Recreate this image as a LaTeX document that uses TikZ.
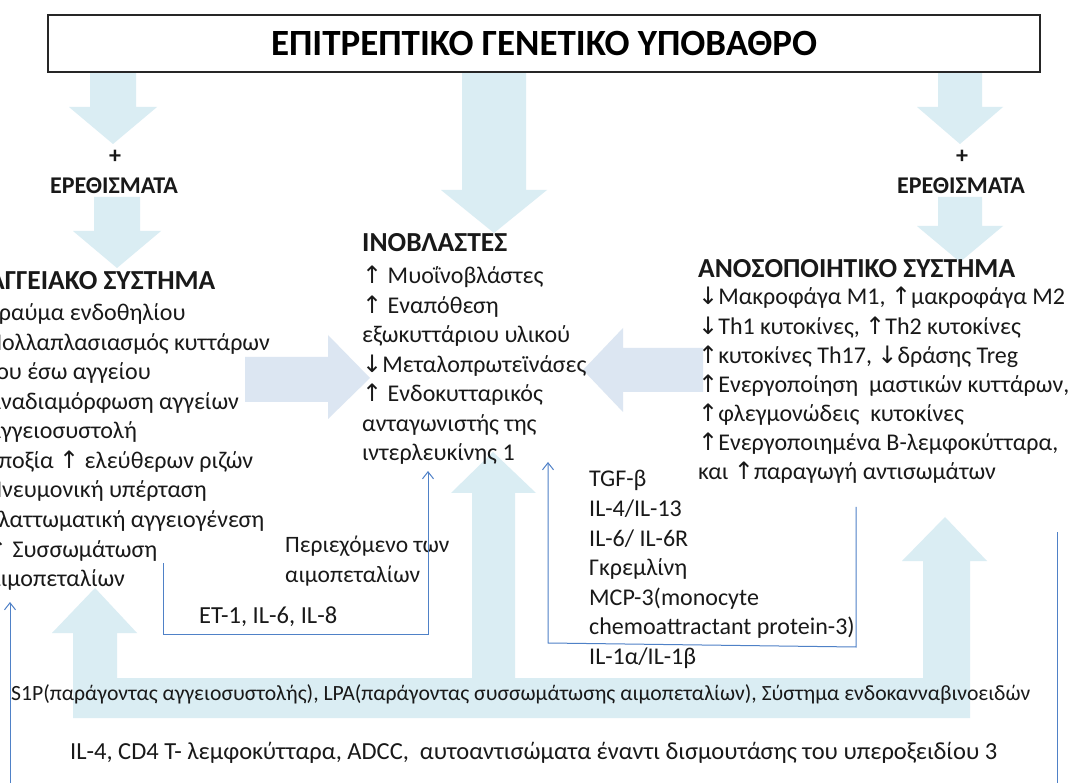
\documentclass[tikz,border=0pt]{standalone}
\usepackage{fontspec}
\setmainfont{Carlito}
\newfontfamily\symf{DejaVu Sans}
\usetikzlibrary{arrows.meta}
\definecolor{cyanarrow}{RGB}{218,237,243}
\definecolor{lavarrow}{RGB}{220,230,242}
\definecolor{lineblue}{RGB}{79,129,199}
\definecolor{txt}{RGB}{25,25,25}
\newcommand\UA{{\symf ↑}}
\newcommand\DA{{\symf ↓}}
% vertical block arrow: cx, top, headbase, tip, half shaft, half head
\newcommand\VArr[6]{\fill[cyanarrow] ({#1-#5},#2) -- ({#1+#5},#2) -- ({#1+#5},#3) -- ({#1+#6},#3) -- (#1,#4) -- ({#1-#6},#3) -- ({#1-#5},#3) -- cycle;}
\begin{document}
\begin{tikzpicture}[x=1pt,y=-1pt,
  tl/.style={anchor=base west,inner sep=0pt,text=txt,font=\fontsize{24}{28}\selectfont},
  hd/.style={anchor=base west,inner sep=0pt,text=txt,font=\fontsize{27.5}{31}\selectfont\bfseries},
  lab/.style={anchor=base west,inner sep=0pt,text=txt,font=\fontsize{23.5}{27}\selectfont},
  labc/.style={anchor=base west,inner sep=0pt,text=txt,font=\fontsize{24}{28}\selectfont},
  bot/.style={anchor=base west,inner sep=0pt,text=txt,font=\fontsize{21.7}{25}\selectfont},
  botb/.style={anchor=base west,inner sep=0pt,text=txt,font=\fontsize{24.5}{28}\selectfont},
  stim/.style={inner sep=0pt,text=txt,font=\fontsize{24}{28}\selectfont\bfseries},
  titlebox/.style={draw=black!85,line width=1.3pt,fill=white,minimum width=992pt,minimum height=57pt,inner sep=0pt,text=black,font=\fontsize{37}{41}\selectfont\bfseries},
  thin/.style={draw=lineblue,line width=1pt},
  tipped/.style={thin,-{Straight Barb[length=7pt,width=11pt]}}]
\clip (0,0) rectangle (1085,783);
\fill[white] (0,0) rectangle (1085,783);

% ---- block arrows
\VArr{113}{72}{107}{144}{23}{44}
\VArr{117}{197}{231}{268}{23}{44}
\VArr{494}{72}{190}{233}{32}{53}
\VArr{960}{72}{107}{144}{22}{43}
\VArr{960}{197}{226}{262}{22}{43}
\fill[lavarrow] (245,357) -- (328,357) -- (328,335) -- (370,378) -- (328,419) -- (328,402) -- (245,402) -- cycle;
\fill[lavarrow] (703,348) -- (623,348) -- (623,328) -- (583,370) -- (623,412) -- (623,392) -- (703,392) -- cycle;
\fill[cyanarrow] (73,718) -- (73,633) -- (52,633) -- (95,588) -- (137,633) -- (117,633) -- (117,678)
  -- (472,678) -- (472,493) -- (451,493) -- (493,452) -- (536,493) -- (515,493) -- (515,678)
  -- (923,678) -- (923,561) -- (902,561) -- (945,517) -- (987,561) -- (970,561) -- (970,718) -- cycle;

% ---- title
\node[titlebox] (title) at (544,43.5) {ΕΠΙΤΡΕΠΤΙΚΟ ΓΕΝΕΤΙΚΟ ΥΠΟΒΑΘΡΟ};
\node[stim] (plusL) at (115,157) {+};
\node[stim] (stimL) at (114,186) {ΕΡΕΘΙΣΜΑΤΑ};
\node[stim] (plusR) at (962,157) {+};
\node[stim] (stimR) at (961,186) {ΕΡΕΘΙΣΜΑΤΑ};

% ---- left block
\node[hd] (vh) at (-12,290) {ΑΓΓΕΙΑΚΟ ΣΥΣΤΗΜΑ};
\node[tl] (v1) at (-13,321) {Τραύμα ενδοθηλίου};
\node[tl] (v2) at (-13,350.5) {Πολλαπλασιασμός κυττάρων};
\node[tl] (v3) at (-13,380) {του έσω αγγείου};
\node[tl] (v4) at (-13,409.5) {Αναδιαμόρφωση αγγείων};
\node[tl] (v5) at (-13,439) {Αγγειοσυστολή};
\node[tl] (v6) at (-13,468.5) {Υποξία \UA{} ελεύθερων ριζών};
\node[tl] (v7) at (-13,498) {Πνευμονική υπέρταση};
\node[tl] (v8) at (-13,527.5) {Ελαττωματική αγγειογένεση};
\node[tl] (v9) at (-13,557) {\UA{} Συσσωμάτωση};
\node[tl] (v10) at (-13,586.5) {αιμοπεταλίων};

% ---- middle block
\node[hd] (fh) at (362,252) {ΙΝΟΒΛΑΣΤΕΣ};
\node[tl] (f1) at (362,284) {\UA{} Μυοΐνοβλάστες};
\node[tl] (f2) at (362,313.5) {\UA{} Εναπόθεση};
\node[tl] (f3) at (362,343) {εξωκυττάριου υλικού};
\node[tl] (f4) at (362,372.5) {\DA Μεταλοπρωτεϊνάσες};
\node[tl] (f5) at (362,402) {\UA{} Ενδοκυτταρικός};
\node[tl] (f6) at (362,431.5) {ανταγωνιστής της};
\node[tl] (f7) at (362,461) {ιντερλευκίνης 1};

% ---- right block
\node[hd] (ih) at (698,278) {ΑΝΟΣΟΠΟΙΗΤΙΚΟ ΣΥΣΤΗΜΑ};
\node[tl] (i1) at (698,305) {\DA Μακροφάγα Μ1, \UA μακροφάγα Μ2};
\node[tl] (i2) at (698,334.5) {\DA Th1 κυτοκίνες, \UA Th2 κυτοκίνες};
\node[tl] (i3) at (698,364) {\UA κυτοκίνες Th17, \DA δράσης Treg};
\node[tl] (i4) at (698,393) {\UA Ενεργοποίηση\ \ μαστικών κυττάρων,};
\node[tl] (i5) at (698,422) {\UA φλεγμονώδεις\ \ κυτοκίνες};
\node[tl] (i6) at (698,451) {\UA Ενεργοποιημένα Β-λεμφοκύτταρα,};
\node[tl] (i7) at (698,480) {και \UA παραγωγή αντισωμάτων};

% ---- labels
\node[lab] (p1) at (285,552) {Περιεχόμενο των};
\node[lab] (p2) at (285,582) {αιμοπεταλίων};
\node[botb] (et) at (199,623) {ET-1, IL-6, IL-8};
\node[labc] (c1) at (589,487) {TGF-β};
\node[labc] (c2) at (589,516.5) {IL-4/IL-13};
\node[labc] (c3) at (589,546) {IL-6/ IL-6R};
\node[labc] (c4) at (589,575.5) {Γκρεμλίνη};
\node[labc] (c5) at (589,605) {MCP-3(monocyte};
\node[labc] (c6) at (589,634.5) {chemoattractant protein-3)};
\node[labc] (c7) at (589,664) {IL-1α/IL-1β};
\node[bot] (s1p) at (11,700) {S1P(παράγοντας αγγειοσυστολής), LPA(παράγοντας συσσωμάτωσης αιμοπεταλίων), Σύστημα ενδοκανναβινοειδών};
\node[botb] (il4) at (70,759) {IL-4, CD4 T- λεμφοκύτταρα, ADCC,\ \ αυτοαντισώματα έναντι δισμουτάσης του υπεροξειδίου 3};

% ---- thin connectors
\coordinate (a0) at (163,563);
\coordinate (a1) at (428,471);
\draw[tipped] (a0) |- (a1 |- 0,634) -- (a1);
\coordinate (b0) at (856,507);
\coordinate (b1) at (856,647);
\coordinate (b2) at (548,643);
\coordinate (b3) at (548,462);
\draw[tipped] (b0) -- (b1) -- (b2) -- (b3);
\coordinate (d0) at (1057,532);
\coordinate (d1) at (10,602);
\draw[tipped] (d0) -- (1057,800) -- (10,800) -- (d1);
\end{tikzpicture}
\end{document}
